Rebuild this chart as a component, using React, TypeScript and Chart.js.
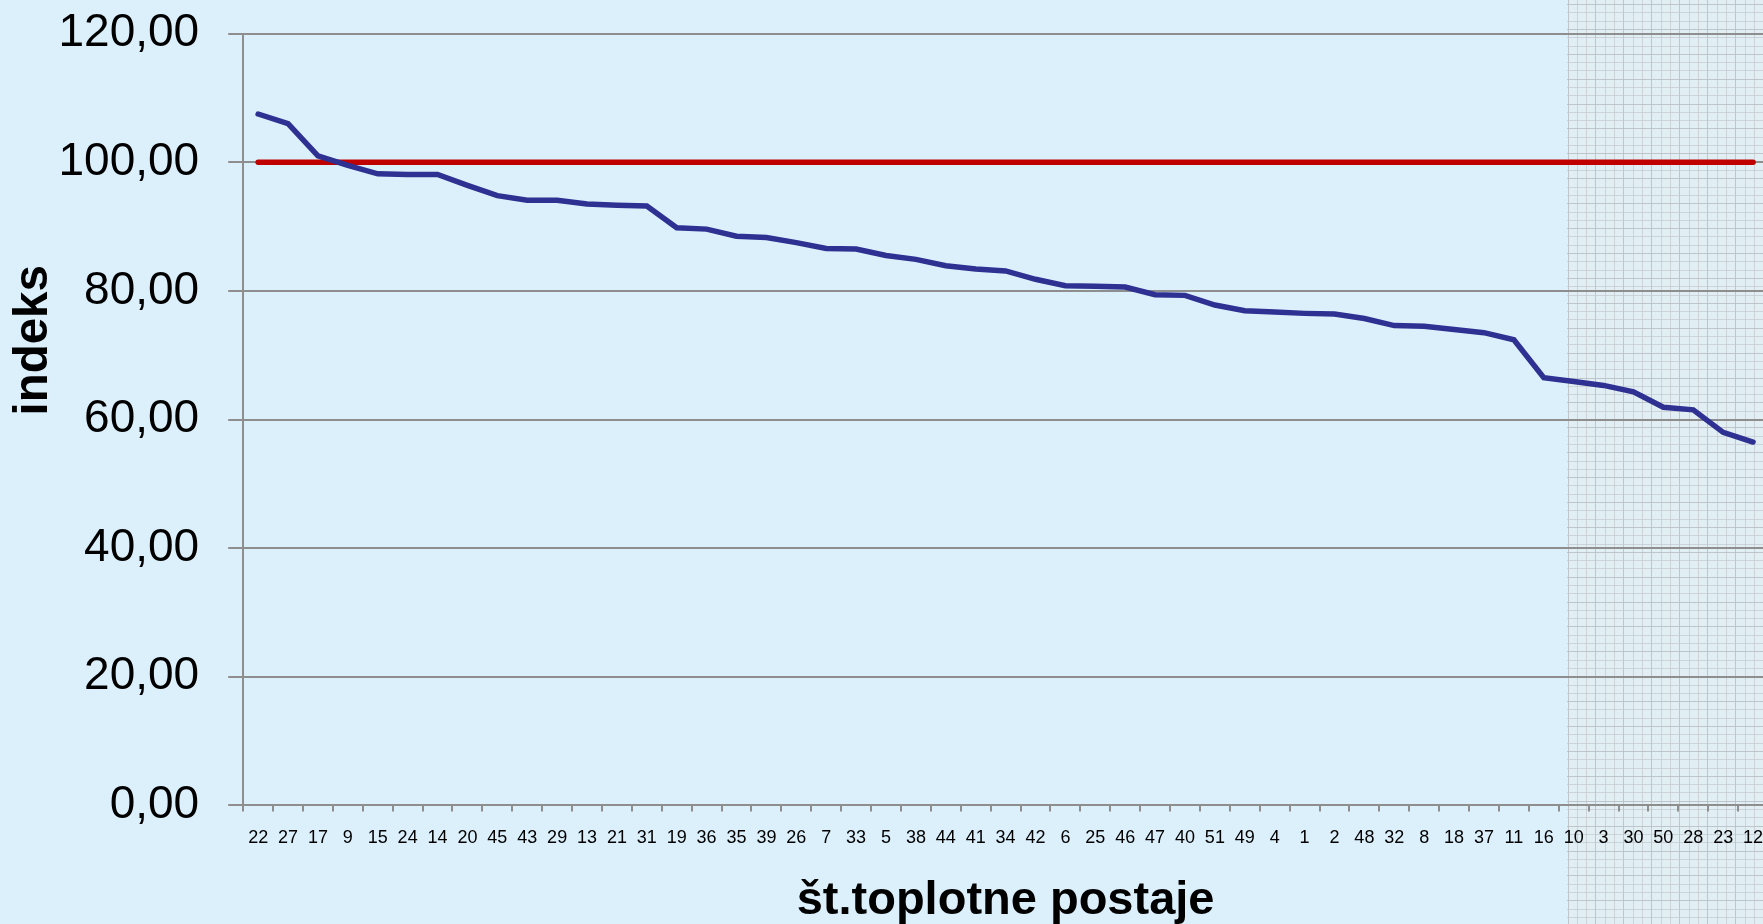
import React, { useEffect, useRef } from "react";
import { Chart, registerables } from "chart.js";

Chart.register(...registerables);

const categories = [
  "22", "27", "17", "9", "15", "24", "14", "20", "45", "43",
  "29", "13", "21", "31", "19", "36", "35", "39", "26", "7",
  "33", "5", "38", "44", "41", "34", "42", "6", "25", "46",
  "47", "40", "51", "49", "4", "1", "2", "48", "32", "8",
  "18", "37", "11", "16", "10", "3", "30", "50", "28", "23",
  "12",
];

const indeks = [
  107.5, 106.0, 101.0, 99.5, 98.2, 98.1, 98.1, 96.4, 94.8, 94.1,
  94.1, 93.5, 93.3, 93.2, 89.8, 89.6, 88.5, 88.3, 87.5, 86.6,
  86.5, 85.5, 84.9, 83.9, 83.4, 83.1, 81.8, 80.8, 80.7, 80.6,
  79.4, 79.3, 77.8, 76.9, 76.7, 76.5, 76.4, 75.7, 74.6, 74.5,
  74.0, 73.5, 72.4, 66.5, 65.9, 65.3, 64.3, 61.9, 61.5, 58.0,
  56.5,
];

const reference = [
  100, 100, 100, 100, 100, 100, 100, 100, 100, 100,
  100, 100, 100, 100, 100, 100, 100, 100, 100, 100,
  100, 100, 100, 100, 100, 100, 100, 100, 100, 100,
  100, 100, 100, 100, 100, 100, 100, 100, 100, 100,
  100, 100, 100, 100, 100, 100, 100, 100, 100, 100,
  100,
];

const yTickValues = { min: 0, max: 120, step: 20 };
const xTitle = "št.toplotne postaje";
const yTitle = "indeks";

const BG = "#DCF0FC";
const GRID = "#8E8E8E";
const FONT = "'Liberation Sans', Arial, sans-serif";

const patternPlugin = {
  id: "bgPattern",
  beforeDraw(chart: any) {
    const { ctx, width, height } = chart;
    ctx.save();
    ctx.fillStyle = BG;
    ctx.fillRect(0, 0, width, height);
    const x0 = 1567;
    ctx.fillStyle = "#E1EEF4";
    ctx.fillRect(x0, 0, width - x0, height);
    ctx.lineWidth = 1;
    let k = 0;
    for (let x = x0 + 0.5; x < width; x += 9.33, k++) {
      ctx.strokeStyle = k % 3 === 0 ? "rgba(185,190,195,0.85)" : "rgba(195,200,205,0.7)";
      ctx.beginPath();
      ctx.moveTo(Math.round(x) + 0.5, 0);
      ctx.lineTo(Math.round(x) + 0.5, height);
      ctx.stroke();
    }
    k = 0;
    for (let y = 4; y < height; y += 8.3, k++) {
      ctx.strokeStyle = k % 3 === 0 ? "rgba(185,190,195,0.85)" : "rgba(195,200,205,0.7)";
      ctx.beginPath();
      ctx.moveTo(x0, Math.round(y) + 0.5);
      ctx.lineTo(width, Math.round(y) + 0.5);
      ctx.stroke();
    }
    ctx.restore();
  },
};

export default function App() {
  const ref = useRef<HTMLCanvasElement | null>(null);

  useEffect(() => {
    if (!ref.current) return;
    const chart = new Chart(ref.current, {
      type: "line",
      data: {
        labels: categories,
        datasets: [
          {
            label: "indeks",
            data: indeks,
            borderColor: "#2E3192",
            borderWidth: 5.5,
            pointRadius: 0,
            tension: 0,
            borderCapStyle: "round",
            borderJoinStyle: "miter",
          },
          {
            label: "100",
            data: reference,
            borderColor: "#C00000",
            borderWidth: 5.5,
            pointRadius: 0,
            tension: 0,
            borderCapStyle: "round",
          },
        ],
      },
      options: {
        animation: false,
        responsive: false,
        devicePixelRatio: 1,
        layout: { padding: { top: 0, right: 12, bottom: 0, left: 0 } },
        plugins: {
          legend: { display: false },
          tooltip: { enabled: false },
        },
        scales: {
          x: {
            offset: true,
            grid: {
              display: true,
              offset: true,
              drawOnChartArea: false,
              drawTicks: true,
              tickLength: 6,
              color: GRID,
              lineWidth: 2,
            },
            border: { display: true, color: GRID, width: 2 },
            ticks: {
              autoSkip: false,
              maxRotation: 0,
              minRotation: 0,
              padding: 16,
              color: "#000",
              font: { family: FONT, size: 18 },
            },
            title: {
              display: true,
              text: xTitle,
              color: "#000",
              font: { family: FONT, size: 47, weight: "bold", lineHeight: 1 },
              padding: { top: 13, bottom: -1 },
            },
          },
          y: {
            min: yTickValues.min,
            max: yTickValues.max,
            grid: {
              color: GRID,
              lineWidth: 2,
              drawTicks: true,
              tickLength: 15,
            },
            border: { display: true, color: GRID, width: 2 },
            ticks: {
              stepSize: yTickValues.step,
              padding: 29,
              color: "#000",
              font: { family: FONT, size: 46, lineHeight: 0.2 },
              callback: (v: any) => Number(v).toFixed(2).replace(".", ","),
            },
            title: {
              display: true,
              text: "            " + yTitle,
              color: "#000",
              font: { family: FONT, size: 47.5, weight: "bold", lineHeight: 1 },
              padding: { top: 10, bottom: -28 },
            },
          },
        },
      },
      plugins: [patternPlugin],
    });
    return () => chart.destroy();
  }, []);

  return (
    <div
      style={{
        position: "fixed",
        left: 0,
        top: 0,
        width: 1763,
        height: 924,
        overflow: "hidden",
        background: BG,
      }}
    >
      <canvas ref={ref} width={1780} height={924} style={{ display: "block" }} />
    </div>
  );
}
